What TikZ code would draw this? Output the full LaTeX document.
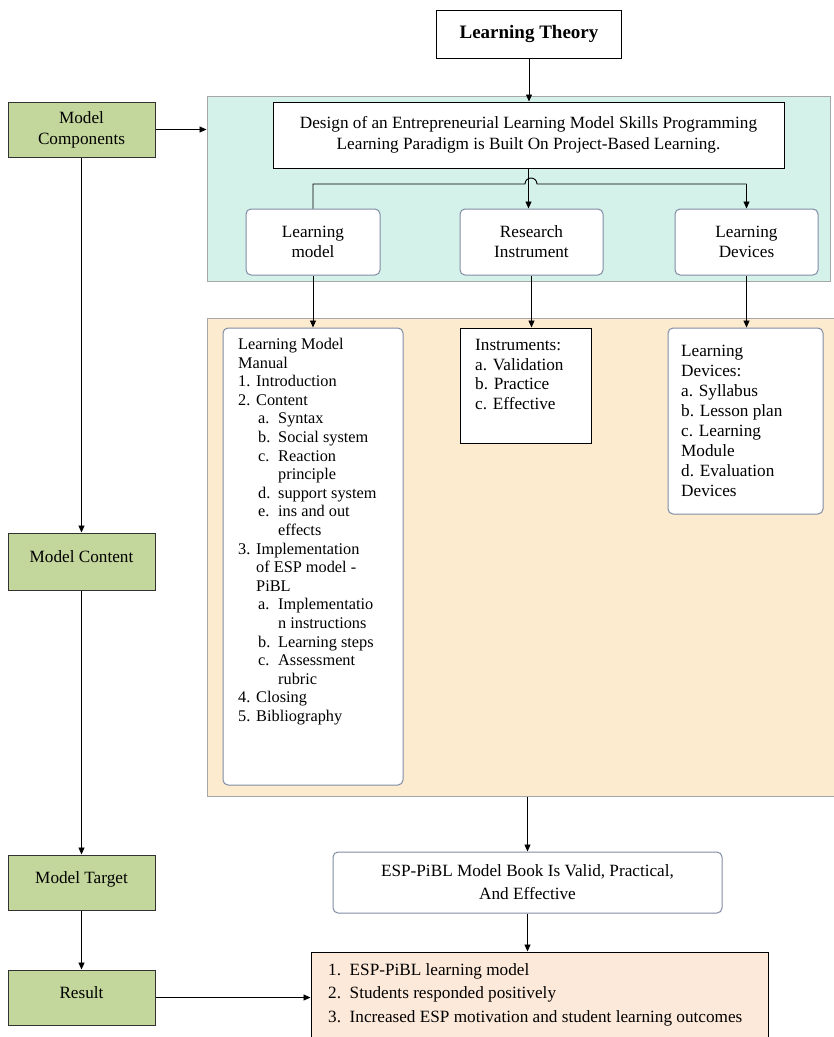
\documentclass[tikz,border=0pt]{standalone}
\usepackage{fontspec}
\setmainfont{Liberation Serif}
\usetikzlibrary{arrows.meta,positioning}

\definecolor{tealbg}{RGB}{212,241,234}
\definecolor{peachbg}{RGB}{253,235,208}
\definecolor{greenbox}{RGB}{195,214,155}
\definecolor{resultbg}{RGB}{253,233,217}
\definecolor{softedge}{RGB}{128,140,165}

\newcommand{\numitm}[1]{\makebox[18pt][l]{#1}}
\newcommand{\subitm}[1]{\hspace*{20pt}\makebox[20pt][l]{#1}}

\begin{document}
\begin{tikzpicture}[x=1pt,y=-1pt,
    font=\fontsize{17.2}{20}\selectfont,
    every node/.style={inner sep=0pt},
    arr/.style={-{Triangle[length=7pt,width=6pt]},line width=0.9pt},
    plain/.style={line width=0.9pt},
    greenbox/.style={draw=black!80,line width=1pt,fill=greenbox,
      minimum width=147pt,align=center},
    softbox/.style={draw=softedge,line width=1pt,fill=white,rounded corners=5pt},
    hardbox/.style={draw=black,line width=1pt,fill=white}]
    \useasboundingbox (0,0) rectangle (834,1037);

    % Background panels
    \node[draw=black!35,line width=1pt,fill=tealbg,minimum width=623pt,
      minimum height=185pt] (panelA) at (518.5,188.5) {};
    \node[draw=black!35,line width=1pt,fill=peachbg,minimum width=630pt,
      minimum height=478pt] (panelB) at (522,557) {};

    % Top of the chain
    \node[hardbox,minimum width=185pt,minimum height=48pt,
      font=\fontsize{19}{20}\selectfont\bfseries] (theory) at (529,34)
      {Learning Theory};
    \node[hardbox,minimum width=511pt,minimum height=66pt,align=center]
      (design) at (528.5,135)
      {Design of an Entrepreneurial Learning Model Skills Programming\\[1pt]
       Learning Paradigm is Built On Project-Based Learning.};

    % Three branches
    \node[softbox,minimum width=134pt,minimum height=66pt,align=center]
      (model) at (313,242) {Learning\\model};
    \node[softbox,minimum width=143pt,minimum height=66pt,align=center]
      (instr) at (531.5,242) {Research\\Instrument};
    \node[softbox,minimum width=143pt,minimum height=66pt,align=center]
      (devices) at (746.5,242) {Learning\\Devices};

    % Content boxes
    \node[softbox,minimum width=180pt,minimum height=457pt] (manual)
      at (313,556.5) {};
    \node[anchor=north west,align=left,font=\fontsize{16.3}{18.6}\selectfont]
      (manualtext) at (238,338)
      {Learning Model\\
       Manual\\
       \numitm{1.}Introduction\\
       \numitm{2.}Content\\
       \subitm{a.}Syntax\\
       \subitm{b.}Social system\\
       \subitm{c.}Reaction\\
       \hspace*{40pt}principle\\
       \subitm{d.}support system\\
       \subitm{e.}ins and out\\
       \hspace*{40pt}effects\\
       \numitm{3.}Implementation\\
       \hspace*{18pt}of ESP model -\\
       \hspace*{18pt}PiBL\\
       \subitm{a.}Implementatio\\
       \hspace*{40pt}n instructions\\
       \subitm{b.}Learning steps\\
       \subitm{c.}Assessment\\
       \hspace*{40pt}rubric\\
       \numitm{4.}Closing\\
       \numitm{5.}Bibliography};

    \node[hardbox,minimum width=131pt,minimum height=115pt] (instrlist)
      at (525.5,385.5) {};
    \node[anchor=north west,align=left,font=\fontsize{17.2}{19.7}\selectfont]
      (instrtext) at (475,339)
      {Instruments:\\a. Validation\\b. Practice\\c. Effective};

    \node[softbox,minimum width=155pt,minimum height=186pt] (devlist)
      at (745.5,421) {};
    \node[anchor=north west,align=left] (devtext) at (681,345)
      {Learning\\Devices:\\a. Syllabus\\b. Lesson plan\\c. Learning\\Module\\
       d. Evaluation\\Devices};

    % Outcome boxes
    \node[softbox,minimum width=389pt,minimum height=61pt,align=center]
      (book) at (527.5,882.5)
      {ESP-PiBL Model Book Is Valid, Practical,\\[3pt] And Effective};
    \node[draw=black,line width=1pt,fill=resultbg,minimum width=457pt,
      minimum height=100pt] (result) at (539.5,1002) {};
    \node[anchor=north west,align=left,font=\fontsize{17.2}{23.5}\selectfont]
      (resulttext) at (328,963)
      {1.\ \ ESP-PiBL learning model\\
       2.\ \ Students responded positively\\
       3.\ \ Increased ESP motivation and student learning outcomes};

    % Left column
    \node[greenbox,minimum height=55pt] (comp) at (81.5,129.5)
      {Model\\[1pt]Components};
    \node[greenbox,minimum height=57pt] (content) at (81.5,561.5)
      {\raisebox{9pt}{Model Content}};
    \node[greenbox,minimum height=55pt] (target) at (81.5,882.5)
      {\raisebox{9pt}{Model Target}};
    \node[greenbox,minimum height=55pt] (res) at (81.5,997.5)
      {\raisebox{9pt}{Result}};

    % Connectors
    \coordinate (hopL) at (525,184);
    \coordinate (hopR) at (537,184);
    \draw[arr] (theory.south) -- (theory.south |- design.north);
    \draw[arr] (design.south) -- (design.south |- instr.north);
    \draw[plain] (model.north) |- (hopL) arc (180:0:6pt) -- (hopR -| devices.north);
    \draw[arr] (hopR -| devices.north) -- (devices.north);
    \draw[arr] (model.south) -- (manual.north);
    \draw[arr] (instr.south) -- (instr.south |- instrlist.north);
    \draw[arr] (devices.south) -- (devices.south |- devlist.north);
    \draw[arr] (book.north |- panelB.south) -- (book.north);
    \draw[arr] (book) -- (book.south |- result.north);

    \draw[arr] (comp) -- (panelA.west |- comp.east);
    \draw[arr] (comp) -- (content);
    \draw[arr] (content) -- (target);
    \draw[arr] (target) -- (res);
    \draw[arr] (res) -- (result.west |- res.east);
  \end{tikzpicture}
\end{document}
